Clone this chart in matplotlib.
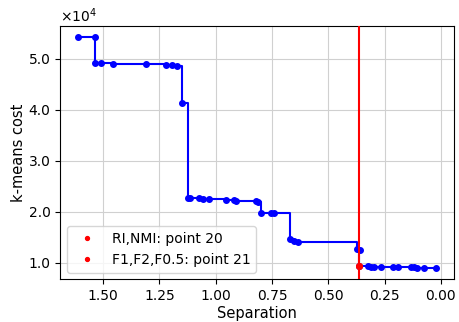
import matplotlib
matplotlib.use("Agg")
import matplotlib.pyplot as plt
from matplotlib.ticker import ScalarFormatter

separation = [1.612, 1.537, 1.537, 1.510, 1.456, 1.308, 1.223, 1.196, 1.172, 1.148,
              1.122, 1.115, 1.075, 1.057, 1.030, 0.953, 0.921, 0.912, 0.823, 0.813,
              0.798, 0.753, 0.739, 0.669, 0.654, 0.635, 0.373, 0.361, 0.362, 0.325,
              0.310, 0.295, 0.265, 0.214, 0.192, 0.132, 0.117, 0.107, 0.073, 0.021]
cost = [54250, 54250, 49200, 49200, 49100, 49000, 48800, 48800, 48700, 41400,
        22800, 22800, 22700, 22600, 22600, 22400, 22300, 22200, 22100, 22000,
        19800, 19800, 19800, 14600, 14200, 14100, 12800, 12500, 9300, 9300,
        9250, 9250, 9200, 9150, 9150, 9100, 9100, 9050, 9050, 9000]

best_labels = ["RI,NMI: point 20", "F1,F2,F0.5: point 21"]
best_sep = [0.362, 0.362]
best_cost = [9300, 9300]


class OneDecimal(ScalarFormatter):
    def _set_format(self):
        self.format = "%1.1f"


fig = plt.figure(figsize=(4.59, 3.22), dpi=100)
ax = fig.add_axes([0.131, 0.132, 0.858, 0.788])

ax.plot(separation, cost, color="blue", marker="o", markersize=4, linewidth=1.5,
        drawstyle="steps-post", zorder=3)
ax.axvline(best_sep[0], color="red", linewidth=1.5, zorder=4)
for s, c, lab in zip(best_sep, best_cost, best_labels):
    ax.plot([s], [c], "o", color="red", markersize=4, linestyle="none", label=lab, zorder=5)

ax.invert_xaxis()
ax.grid(True, color="#d0d0d0", linewidth=0.8)
ax.set_axisbelow(True)

fmt = OneDecimal(useMathText=True)
fmt.set_powerlimits((0, 0))
ax.yaxis.set_major_formatter(fmt)
ax.set_yticks([10000, 20000, 30000, 40000, 50000])
ax.set_xticks([1.5, 1.25, 1.0, 0.75, 0.5, 0.25, 0.0])

ax.tick_params(labelsize=10)
ax.yaxis.get_offset_text().set_fontsize(10)
ax.set_xlabel("Separation", fontsize=10.5, labelpad=2)
ax.set_ylabel("k-means cost", fontsize=10.5, labelpad=2)

ax.legend(loc="lower left", fontsize=10, markerscale=0.7, framealpha=0.8)

fig.savefig("out.png", dpi=100)
